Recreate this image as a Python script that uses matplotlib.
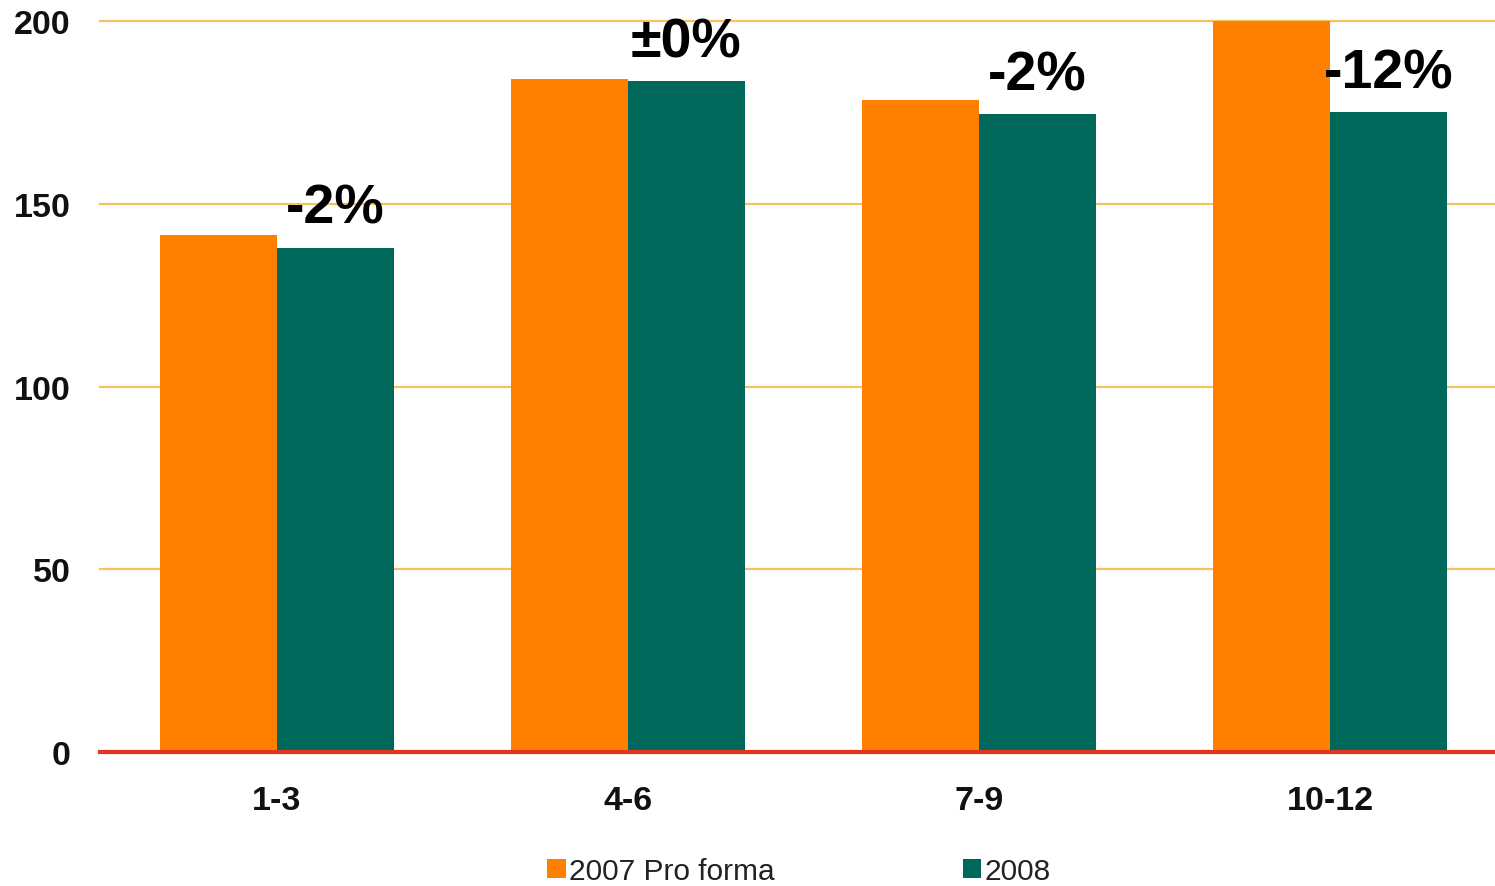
import matplotlib
matplotlib.use("Agg")
import numpy as np
from matplotlib import pyplot as plt

# Data
quarters = ["1-3", "4-6", "7-9", "10-12"]
pro_forma_2007 = [141.5, 184.0, 178.5, 200.0]
values_2008 = [138.0, 183.5, 174.5, 175.0]
change_labels = ["-2%", "\u00b10%", "-2%", "-12%"]
series_names = ["2007 Pro forma", "2008"]

orange = "#FF8000"
teal = "#00685A"
grid_col = "#F6C25E"
zero_col = "#E4341C"

plt.rcParams["font.family"] = ["Liberation Sans", "DejaVu Sans"]

fig = plt.figure(figsize=(14.95, 8.87), dpi=100)
ax = fig.add_axes([100 / 1495, 1 - 753 / 887, 1 - 100 / 1495, (753 - 22) / 887])

x = np.arange(len(quarters))
w = 0.333
ax.bar(x - w / 2, pro_forma_2007, w, color=orange, label=series_names[0], zorder=3)
ax.bar(x + w / 2, values_2008, w, color=teal, label=series_names[1], zorder=3)

ax.set_xlim(-0.504, 3.47)
ax.set_ylim(0, 200)

# horizontal gridlines
for yv in [50, 100, 150, 200]:
    ax.axhline(yv, color=grid_col, lw=1.6, zorder=1, clip_on=False)
ax.axhline(0, color=zero_col, lw=3, zorder=4, clip_on=False)

for s in ax.spines.values():
    s.set_visible(False)

ax.set_yticks([0, 50, 100, 150, 200])
ax.set_xticks(x)
ax.set_xticklabels(quarters)
ax.tick_params(axis="y", length=0, pad=21, labelsize=24.5)
ax.tick_params(axis="x", length=0, pad=24, labelsize=24.5)
for lbl in ax.get_xticklabels() + ax.get_yticklabels():
    lbl.set_fontweight("bold")
    lbl.set_color("#111111")

# percentage change labels above the 2008 bars
for i, txt in enumerate(change_labels):
    ax.annotate(txt, (x[i] + w / 2, values_2008[i]), xytext=(0, 18),
                textcoords="offset points", ha="center", va="baseline",
                fontsize=40, fontweight="bold", annotation_clip=False, zorder=5)

leg = fig.legend(loc="center left", bbox_to_anchor=(547 / 1495, 1 - 872 / 887),
                 ncol=2, frameon=False, fontsize=21.5, handlelength=0.62,
                 handleheight=0.62, handletextpad=0.12, columnspacing=6.3,
                 borderpad=0, borderaxespad=0)
for t in leg.get_texts():
    t.set_color("#222222")

fig.savefig("out.png", dpi=100)
